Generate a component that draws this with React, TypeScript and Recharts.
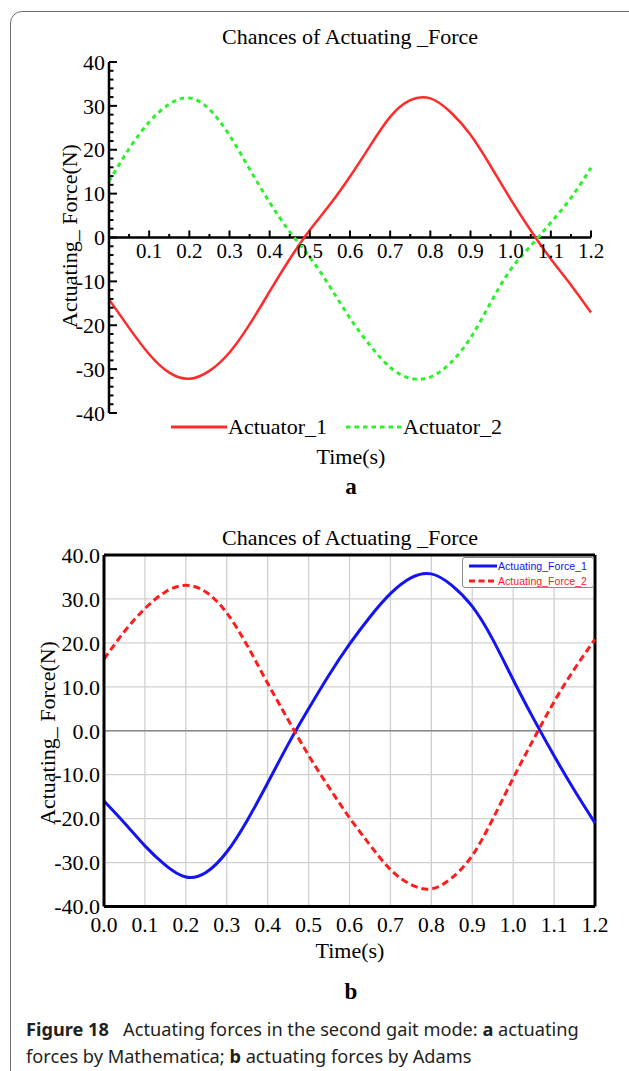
import React from 'react';
import { LineChart, Line, XAxis, YAxis, CartesianGrid, ReferenceLine } from 'recharts';

// time axis (s), shared by both panels
const time = [0, 0.05, 0.1, 0.15, 0.2, 0.25, 0.3, 0.35, 0.4, 0.45, 0.5, 0.55, 0.6,
  0.65, 0.7, 0.75, 0.8, 0.85, 0.9, 0.95, 1.0, 1.05, 1.1, 1.15, 1.2];

// panel a: Mathematica
const actuator1 = [-14.1, -20.6, -26.6, -30.8, -32.2, -30.4, -26.2, -19.8, -12.3, -4.9, 1.7, 7.5, 13.9,
  20.9, 27.5, 31.3, 31.7, 28.6, 23.4, 16.3, 8.7, 1.6, -4.9, -10.8, -17.1];
const actuator2 = [12.8, 20.2, 26.3, 30.4, 31.8, 29.2, 23.3, 15.6, 8.0, 1.3, -4.5, -11.2, -18.4,
  -24.6, -29.6, -32.1, -31.8, -28.6, -22.9, -14.9, -7.3, -1.9, 3.4, 9.0, 15.9];

// panel b: Adams
const force1 = [-16.0, -21.0, -26.2, -30.6, -33.3, -32.2, -27.6, -20.4, -11.9, -3.1, 5.0, 12.7, 19.7,
  25.9, 31.2, 34.8, 35.7, 33.1, 28.3, 20.8, 11.6, 2.7, -5.7, -13.6, -21.0];
const force2 = [16.3, 22.6, 27.8, 31.6, 33.1, 31.5, 26.8, 19.4, 10.8, 2.5, -5.6, -12.9, -19.8,
  -26.0, -31.6, -35.0, -36.0, -33.5, -28.4, -20.1, -10.8, -1.9, 6.6, 14.1, 20.8];

const xTicksA = [0.05, 0.1, 0.15, 0.2, 0.25, 0.3, 0.35, 0.4, 0.45, 0.5, 0.55, 0.6, 0.65,
  0.7, 0.75, 0.8, 0.85, 0.9, 0.95, 1.0, 1.05, 1.1, 1.15, 1.2];
const yTicksA = [-40, -38, -36, -34, -32, -30, -28, -26, -24, -22, -20, -18, -16, -14, -12, -10,
  -8, -6, -4, -2, 0, 2, 4, 6, 8, 10, 12, 14, 16, 18, 20, 22, 24, 26, 28, 30, 32, 34, 36, 38, 40];
const xTicksB = [0, 0.1, 0.2, 0.3, 0.4, 0.5, 0.6, 0.7, 0.8, 0.9, 1.0, 1.1, 1.2];
const yTicksB = [-40, -30, -20, -10, 0, 10, 20, 30, 40];

const seriesA = [
  { key: 'a1', name: 'Actuator_1', color: '#ff2a2a', dash: undefined as string | undefined },
  { key: 'a2', name: 'Actuator_2', color: '#2ef02e', dash: '4.5 4' },
];
const seriesB = [
  { key: 'f1', name: 'Actuating_Force_1', color: '#1414f0', dash: undefined as string | undefined },
  { key: 'f2', name: 'Actuating_Force_2', color: '#ff1c1c', dash: '7 4' },
];

const dataA = time.map((t, i) => ({ t, a1: actuator1[i], a2: actuator2[i] }));
const dataB = time.map((t, i) => ({ t, f1: force1[i], f2: force2[i] }));

const SERIF = "'Liberation Serif', 'Times New Roman', serif";
const SANS = "'Liberation Sans', Arial, sans-serif";

const A_H = 500;
const A_YW = 60;
const A_XH = 30;
// plot area: x 109..591, y 62..413
const A_M = { top: 62, right: 38, bottom: 87 - A_XH, left: 109 - A_YW };
const A_PLOT_H = A_H - 62 - 87;

// x ticks of panel a sit on the y = 0 axis (domain is symmetric)
function XTickA(props: any) {
  const { x, y, payload } = props;
  const axisY = y - A_PLOT_H / 2;
  const v = payload.value as number;
  const major = Math.round(v * 100) % 10 === 0;
  return (
    <g>
      <line x1={x} x2={x} y1={axisY} y2={axisY - (major ? 7 : 3.5)} stroke="#000" strokeWidth={2} />
      {major && (
        <text x={x} y={axisY + 20} textAnchor="middle" fontSize={21} fontFamily={SERIF} fill="#000">
          {v.toFixed(1)}
        </text>
      )}
    </g>
  );
}

function YTickA(props: any) {
  const { x, y, payload } = props;
  const v = payload.value as number;
  const major = v % 10 === 0;
  return (
    <g>
      <line x1={x} x2={x + (major ? 8 : 4.5)} y1={y} y2={y} stroke="#000" strokeWidth={2} />
      {major && (
        <text x={x - 4} y={y} dy="0.35em" textAnchor="end" fontSize={22} fontFamily={SERIF} fill="#000">
          {v}
        </text>
      )}
    </g>
  );
}

function LegendA() {
  const left = [171, 346];
  return (
    <svg width={629} height={40} style={{ position: 'absolute', left: 0, top: 407 }}>
      {seriesA.map((s, i) => (
        <g key={s.key}>
          <line x1={left[i]} x2={left[i] + 56} y1={20} y2={20} stroke={s.color} strokeWidth={3}
            strokeDasharray={s.dash} />
          <text x={left[i] + 57} y={27} fontSize={22} fontFamily={SERIF} fill="#000">{s.name}</text>
        </g>
      ))}
    </svg>
  );
}

function LegendB() {
  return (
    <div style={{
      position: 'absolute', left: 462, top: 557, width: 132, height: 31, boxSizing: 'border-box',
      border: '1px solid #8a8a8a', borderRadius: 3, background: '#fff',
    }}>
      <svg width={132} height={31}>
        {seriesB.map((s, i) => (
          <g key={s.key}>
            <line x1={6} x2={34} y1={8 + i * 15} y2={8 + i * 15} stroke={s.color} strokeWidth={3}
              strokeDasharray={s.dash ? '6 3.5' : undefined} />
            <text x={35} y={12 + i * 15} fontSize={10.6} fontFamily={SANS} fill={s.color}>{s.name}</text>
          </g>
        ))}
      </svg>
    </div>
  );
}

export default function App() {
  return (
    <div style={{ position: 'absolute', left: 0, top: 0, width: 629, height: 1071, overflow: 'hidden', background: '#fff' }}>
      <div style={{
        position: 'absolute', left: 10, top: 11, width: 660, height: 1100,
        border: '1.5px solid #6e6e6e', borderRadius: 12,
      }} />

      {/* panel a */}
      <div style={{ position: 'absolute', left: 0, top: 0 }}>
        <LineChart width={629} height={A_H} data={dataA} margin={A_M}>
          <XAxis dataKey="t" type="number" domain={[0, 1.2]} ticks={xTicksA} interval={0}
            height={A_XH} tickSize={0} tickMargin={0} axisLine={false} tickLine={false} tick={<XTickA />} />
          <YAxis type="number" domain={[-40, 40]} ticks={yTicksA} interval={0} width={A_YW}
            tickSize={0} tickMargin={0} axisLine={{ stroke: '#000', strokeWidth: 2.5 }} tickLine={false}
            tick={<YTickA />} />
          <ReferenceLine y={0} stroke="#000" strokeWidth={2.5} />
          {seriesA.map(s => (
            <Line key={s.key} dataKey={s.key} name={s.name} type="natural" stroke={s.color}
              strokeWidth={s.dash ? 3 : 2.5} strokeDasharray={s.dash} dot={false} isAnimationActive={false} />
          ))}
        </LineChart>
      </div>
      <LegendA />

      {/* panel b */}
      <div style={{ position: 'absolute', left: 0, top: 500 }}>
        <LineChart width={629} height={450} data={dataB}
          margin={{ top: 55, right: 34, bottom: 3.5, left: 44 }}>
          <CartesianGrid stroke="#d0d0d0" strokeWidth={1.3} />
          <XAxis dataKey="t" type="number" domain={[0, 1.2]} ticks={xTicksB} interval={0}
            height={40} tickSize={0} tickMargin={10} tickLine={false}
            axisLine={{ stroke: '#000', strokeWidth: 3 }}
            tickFormatter={(v: number) => v.toFixed(1)}
            tick={{ fontSize: 21.5, fontFamily: SERIF, fill: '#000' }} />
          <YAxis type="number" domain={[-40, 40]} ticks={yTicksB} interval={0} width={60}
            tickSize={0} tickMargin={4} tickLine={false}
            axisLine={{ stroke: '#000', strokeWidth: 3 }}
            tickFormatter={(v: number) => v.toFixed(1)}
            tick={{ fontSize: 22, fontFamily: SERIF, fill: '#000' }} />
          <ReferenceLine y={0} stroke="#8c8c8c" strokeWidth={1.6} />
          <ReferenceLine y={40} stroke="#000" strokeWidth={3} />
          <ReferenceLine x={1.2} stroke="#000" strokeWidth={3} />
          {seriesB.map(s => (
            <Line key={s.key} dataKey={s.key} name={s.name} type="natural" stroke={s.color}
              strokeWidth={3} strokeDasharray={s.dash} dot={false} isAnimationActive={false} />
          ))}
        </LineChart>
      </div>
      <LegendB />

      {/* titles and axis labels */}
      <svg width={629} height={1071} style={{ position: 'absolute', left: 0, top: 0, pointerEvents: 'none' }}
        fontFamily={SERIF} fill="#000">
        <text x={350} y={44} textAnchor="middle" fontSize={22}>Chances of Actuating _Force</text>
        <text transform="translate(69,236) rotate(-90)" textAnchor="middle" dominantBaseline="central" fontSize={22}>
          Actuating_ Force(N)
        </text>
        <text x={351} y={463.5} textAnchor="middle" fontSize={22}>Time(s)</text>
        <text x={351} y={494} textAnchor="middle" fontSize={23} fontWeight="bold">a</text>

        <text x={350} y={545} textAnchor="middle" fontSize={22}>Chances of Actuating _Force</text>
        <text transform="translate(47,733) rotate(-90)" textAnchor="middle" dominantBaseline="central" fontSize={22}>
          Actuating_ Force(N)
        </text>
        <text x={350} y={957.5} textAnchor="middle" fontSize={22}>Time(s)</text>
        <text x={351} y={999} textAnchor="middle" fontSize={23} fontWeight="bold">b</text>
      </svg>

      {/* caption */}
      <div style={{
        position: 'absolute', left: 26, top: 1016, fontFamily: "'Noto Sans', sans-serif", fontSize: 18.2,
        lineHeight: '27px', color: '#231f20', whiteSpace: 'nowrap',
      }}>
        <div><b>Figure 18</b>&nbsp;&nbsp; Actuating forces in the second gait mode: <b>a</b> actuating</div>
        <div>forces by Mathematica; <b>b</b> actuating forces by Adams</div>
      </div>
    </div>
  );
}
